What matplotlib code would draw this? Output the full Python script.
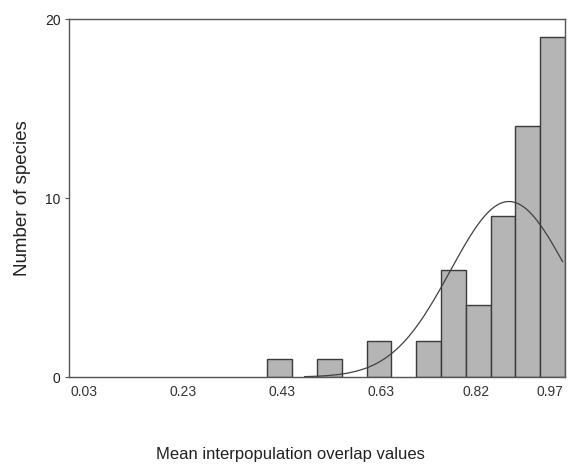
import numpy as np
import matplotlib
matplotlib.use('Agg')
import matplotlib.pyplot as plt

plt.rcParams['font.family'] = ['Liberation Sans', 'DejaVu Sans']

# histograma (ancho de clase 0.05)
bin_edges = [0.40, 0.45, 0.50, 0.55, 0.60, 0.65, 0.70, 0.75, 0.80, 0.85, 0.90, 0.95, 1.00]
counts = [1, 0, 1, 0, 2, 0, 2, 6, 4, 9, 14, 19]

# curva normal ajustada
curve_mean = 0.887
curve_sd = 0.118
curve_start = 0.475
curve_end = 0.995
n_species = sum(counts)
bin_width = 0.05

x_ticks = [0.03, 0.23, 0.43, 0.63, 0.82, 0.97]
x_labels = ['0.03', '0.23', '0.43', '0.63', '0.82', '0.97']
y_ticks = [0, 10, 20]

fig = plt.figure(figsize=(5.72, 4.68), dpi=100)
ax = fig.add_axes([0.1206, 0.1944, 0.8672, 0.765])

lefts = bin_edges[:-1]
for left, c in zip(lefts, counts):
    if c > 0:
        ax.bar(left, c, width=bin_width, align='edge', color='#b5b5b5',
               edgecolor='#3a3a3a', linewidth=1.0)

xs = np.linspace(curve_start, curve_end, 200)
ys = n_species * bin_width / (curve_sd * np.sqrt(2 * np.pi)) * np.exp(-0.5 * ((xs - curve_mean) / curve_sd) ** 2)
ax.plot(xs, ys, color='#404040', linewidth=0.9)

ax.set_xlim(0.0, 1.0)
ax.set_ylim(0, 20)
ax.set_xticks(x_ticks)
ax.set_xticklabels(x_labels)
ax.set_yticks(y_ticks)
ax.tick_params(axis='x', length=0, pad=6, labelsize=10, labelcolor='#333333')
ax.tick_params(axis='y', length=3, width=0.8, pad=3, labelsize=10,
               colors='#555555', labelcolor='#222222')

for s in ax.spines.values():
    s.set_color('#555555')
    s.set_linewidth(1.0)

ax.set_ylabel('Number of species', fontsize=13.5, color='#222222', labelpad=10)
fig.text(0.507, 0.028, 'Mean interpopulation overlap values', fontsize=12,
         color='#222222', ha='center', va='center')

plt.savefig('out.png', dpi=100)
plt.close()
